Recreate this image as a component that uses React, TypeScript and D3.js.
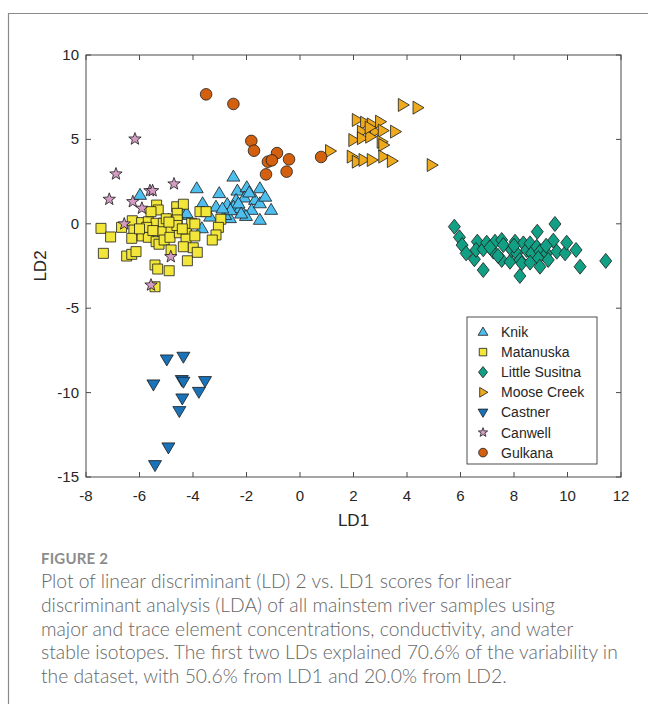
import React from "react";
import * as d3 from "d3";

// LD1 / LD2 scores per river group, as [LD1, LD2]
const knik: [number, number][] = [
  [-5.98, 1.71], [-3.86, 2.1], [-2.49, 2.79], [-3.02, 1.81], [-2.34, 1.96], [-1.99, 2.16],
  [-1.5, 2.1], [-3.64, 1.21], [-3.14, 1.01], [-2.72, 1.16], [-2.39, 1.41], [-2.08, 1.55],
  [-1.68, 1.41], [-2.49, 1.01], [-2.24, 0.92], [-1.81, 0.82], [-1.5, 1.21], [-1.08, 0.82],
  [-3.36, 0.42], [-2.62, 0.33], [-2.02, 0.46], [-1.5, 0.23], [-3.67, -0.27], [-4.36, 0.52],
  [-4.92, 0.23], [-2.8, 0.52], [-4.24, 0.62], [-2.3, 1.2], [-1.9, 1.85], [-2.2, 0.6],
  [-2.6, 0.8], [-1.3, 1.6], [-4.6, 0.6], [-2.9, 0.9],
];
const matanuska: [number, number][] = [
  [-7.44, -0.27], [-7.08, -0.78], [-7.35, -1.75], [-6.67, -0.21], [-6.27, 0.18], [-6.21, -0.37],
  [-6.29, -0.86], [-6.48, -1.91], [-6.29, -1.81], [-6.13, -1.65], [-5.92, 0.07], [-5.67, 0.12],
  [-5.9, -0.72], [-5.67, -0.8], [-5.36, 1.11], [-5.3, 0.82], [-5.57, 0.72], [-5.38, 0.03],
  [-5.11, 0.03], [-5.13, -0.47], [-5.38, -1.06], [-5.27, -1.21], [-5.08, -0.96], [-4.82, -0.37],
  [-4.86, -0.8], [-4.51, -0.53], [-4.24, -0.47], [-4.26, -0.9], [-4.36, -1.36], [-3.99, -1.42],
  [-3.84, -1.69], [-3.93, -0.72], [-4.61, 1.01], [-4.36, 1.16], [-4.59, 0.62], [-4.59, 0.23],
  [-4.05, 0.03], [-3.93, -0.01], [-3.74, 0.72], [-3.51, 0.72], [-2.96, 0.27], [-3.05, -0.21],
  [-3.14, -0.66], [-3.28, -0.96], [-4.82, -1.55], [-4.21, -2.19], [-5.42, -2.44], [-5.32, -2.68],
  [-4.89, -2.78], [-5.42, -3.73], [-5.73, -0.21], [-4.6, -0.1], [-5.0, 0.3], [-5.5, -0.4],
  [-4.9, 0.1], [-6.0, -0.3], [-4.4, -0.3],
];
const littleSusitna: [number, number][] = [
  [5.77, -0.17], [5.96, -0.8], [6.06, -1.26], [6.21, -1.75], [6.52, -2.1], [6.63, -1.06],
  [6.58, -1.55], [6.85, -1.51], [6.98, -1.12], [7.23, -1.65], [7.29, -1.06], [7.54, -0.96],
  [7.6, -1.26], [7.54, -2.14], [7.85, -2.25], [7.91, -1.55], [8.04, -1.06], [8.1, -1.75],
  [8.22, -2.14], [8.29, -2.34], [8.35, -1.16], [8.47, -1.55], [8.6, -1.16], [8.66, -1.75],
  [8.85, -1.36], [8.97, -1.65], [8.91, -2.04], [8.97, -2.54], [8.87, -0.47], [9.22, -1.75],
  [9.28, -2.14], [9.47, -1.0], [9.53, -0.01], [9.6, -1.65], [9.91, -1.75], [9.97, -1.12],
  [10.32, -1.55], [10.47, -2.54], [11.43, -2.2], [6.85, -2.74], [8.22, -3.09], [7.4, -1.9],
  [8.6, -2.3], [8.0, -1.3], [7.1, -1.4], [9.2, -1.3],
];
const mooseCreek: [number, number][] = [
  [3.84, 7.04], [4.39, 6.88], [4.92, 3.48], [1.12, 4.31], [2.12, 6.15], [2.43, 5.99],
  [2.68, 5.89], [2.99, 6.05], [2.31, 5.46], [2.8, 5.46], [3.09, 5.52], [3.55, 5.46],
  [1.99, 4.96], [2.31, 5.07], [2.62, 5.16], [3.05, 4.86], [3.11, 4.67], [1.93, 3.98],
  [2.12, 3.68], [2.37, 3.78], [2.68, 3.78], [3.11, 3.98], [3.43, 3.72], [2.6, 5.7],
];
const castner: [number, number][] = [
  [-4.98, -8.03], [-4.36, -7.87], [-5.48, -9.51], [-4.42, -9.25], [-4.36, -9.35], [-3.55, -9.31],
  [-3.78, -9.95], [-4.4, -10.34], [-4.51, -11.09], [-4.92, -13.24], [-5.42, -14.29],
];
const canwell: [number, number][] = [
  [-6.17, 5.02], [-6.88, 2.95], [-7.13, 1.45], [-6.25, 1.31], [-5.61, 1.96], [-5.51, 1.96],
  [-4.71, 2.36], [-5.91, 0.92], [-6.57, -0.01], [-4.83, -1.95], [-5.57, -3.63],
];
const gulkana: [number, number][] = [
  [-3.51, 7.67], [-2.49, 7.1], [-1.82, 4.91], [-1.72, 4.33], [-0.86, 4.19], [-1.2, 3.68],
  [-1.05, 3.76], [-0.41, 3.82], [-1.27, 2.93], [-0.5, 3.09], [0.79, 3.96],
];

const groupNames = ["Knik", "Matanuska", "Little Susitna", "Moose Creek", "Castner", "Canwell", "Gulkana"];
const groupColors = ["#4DBEEE", "#F2E63A", "#12A085", "#EDAA1F", "#1A72B8", "#D49CC2", "#D2600F"];
const groupShapes = ["up", "square", "diamond", "right", "down", "star", "circle"];
const groupData = [knik, matanuska, littleSusitna, mooseCreek, castner, canwell, gulkana];

const xTicks = [-8, -6, -4, -2, 0, 2, 4, 6, 8, 10, 12];
const yTicks = [-15, -10, -5, 0, 5, 10];

const captionTitle = "FIGURE 2";
const captionLines = [
  "Plot of linear discriminant (LD) 2 vs. LD1 scores for linear",
  "discriminant analysis (LDA) of all mainstem river samples using",
  "major and trace element concentrations, conductivity, and water",
  "stable isotopes. The first two LDs explained 70.6% of the variability in",
  "the dataset, with 50.6% from LD1 and 20.0% from LD2.",
];

// marker outline centred on the origin; k scales the whole glyph
function markerPath(shape: string, k: number): string {
  const p = d3.path();
  if (shape === "up" || shape === "down" || shape === "right") {
    const w = 6.5 * k, h = 11 * k;
    let pts: [number, number][] = [[0, -h * 0.6], [w, h * 0.4], [-w, h * 0.4]];
    if (shape === "down") pts = pts.map(([a, b]) => [a, -b]);
    if (shape === "right") pts = pts.map(([a, b]) => [-b, a]);
    p.moveTo(pts[0][0], pts[0][1]);
    p.lineTo(pts[1][0], pts[1][1]);
    p.lineTo(pts[2][0], pts[2][1]);
    p.closePath();
  } else if (shape === "square") {
    const s = 5 * k;
    p.rect(-s, -s, 2 * s, 2 * s);
  } else if (shape === "diamond") {
    const w = 6 * k, h = 7.5 * k;
    p.moveTo(0, -h); p.lineTo(w, 0); p.lineTo(0, h); p.lineTo(-w, 0); p.closePath();
  } else if (shape === "circle") {
    const r = 5.8 * k;
    p.moveTo(r, 0);
    p.arc(0, 0, r, 0, Math.PI * 2);
    p.closePath();
  } else if (shape === "star") {
    const ro = 6.5 * k, ri = 2.7 * k;
    for (let i = 0; i < 10; i++) {
      const r = i % 2 === 0 ? ro : ri;
      const a = -Math.PI / 2 + (i * Math.PI) / 5;
      if (i === 0) p.moveTo(r * Math.cos(a), r * Math.sin(a));
      else p.lineTo(r * Math.cos(a), r * Math.sin(a));
    }
    p.closePath();
  }
  return p.toString();
}

export default function App() {
  const W = 648, H = 704;
  const left = 86, right = 621, top = 55, bottom = 477;
  const x = d3.scaleLinear().domain([-8, 12]).range([left, right]);
  const y = d3.scaleLinear().domain([-15, 10]).range([bottom, top]);
  const axisFont = "'Liberation Sans', Arial, sans-serif";
  const captionFont = "Lato, 'Open Sans', sans-serif";
  const tickLen = 5;
  const axisColor = "#4a4a4a";

  const legendX = 467, legendY = 317, legendW = 130, legendH = 147;

  return (
    <svg width={W} height={H} style={{ position: "absolute", left: 0, top: 0, background: "#fff" }}>
      <rect x={0} y={0} width={W} height={H} fill="#fff" />
      {/* outer figure frame */}
      <path d={`M8.5,${H} V13.5 H${W}`} fill="none" stroke="#8a8a8a" strokeWidth={1.2} />

      {/* plot box */}
      <rect x={left} y={top} width={right - left} height={bottom - top} fill="#fff" stroke={axisColor} strokeWidth={1} />

      {/* ticks, pointing inward on all four sides */}
      {xTicks.map((t) => (
        <g key={"xt" + t}>
          <line x1={x(t)} x2={x(t)} y1={bottom} y2={bottom - tickLen} stroke={axisColor} />
          <line x1={x(t)} x2={x(t)} y1={top} y2={top + tickLen} stroke={axisColor} />
          <text x={x(t)} y={bottom + 24} textAnchor="middle" fontFamily={axisFont} fontSize={15} fill="#262626">
            {t}
          </text>
        </g>
      ))}
      {yTicks.map((t) => (
        <g key={"yt" + t}>
          <line x1={left} x2={left + tickLen} y1={y(t)} y2={y(t)} stroke={axisColor} />
          <line x1={right} x2={right - tickLen} y1={y(t)} y2={y(t)} stroke={axisColor} />
          <text x={left - 7} y={y(t) + 5} textAnchor="end" fontFamily={axisFont} fontSize={15} fill="#262626">
            {t}
          </text>
        </g>
      ))}

      <text x={(left + right) / 2} y={bottom + 49} textAnchor="middle" fontFamily={axisFont} fontSize={17} fill="#262626">
        LD1
      </text>
      <text
        transform={`translate(46,${(top + bottom) / 2}) rotate(-90)`}
        textAnchor="middle"
        fontFamily={axisFont}
        fontSize={17}
        fill="#262626"
      >
        LD2
      </text>

      {/* scatter groups */}
      {groupData.map((pts, gi) => (
        <g key={groupNames[gi]}>
          {pts.map(([a, b], i) => (
            <path
              key={i}
              d={markerPath(groupShapes[gi], 1)}
              transform={`translate(${x(a)},${y(b)})`}
              fill={groupColors[gi]}
              stroke="#1a1a1a"
              strokeWidth={0.8}
            />
          ))}
        </g>
      ))}

      {/* legend */}
      <rect x={legendX} y={legendY} width={legendW} height={legendH} fill="#fff" stroke="#3a3a3a" strokeWidth={0.9} />
      {groupNames.map((name, i) => {
        const cy = legendY + 15 + i * 20.1;
        return (
          <g key={"lg" + name}>
            <path
              d={markerPath(groupShapes[i], 0.75)}
              transform={`translate(${legendX + 16},${cy})`}
              fill={groupColors[i]}
              stroke="#1a1a1a"
              strokeWidth={0.8}
            />
            <text x={legendX + 34} y={cy + 5} fontFamily={axisFont} fontSize={14} fill="#262626">
              {name}
            </text>
          </g>
        );
      })}

      {/* caption */}
      <text x={41} y={564} fontFamily={captionFont} fontSize={15} fontWeight={700} fill="#8c8c8c" letterSpacing={0.2}>
        {captionTitle}
      </text>
      {captionLines.map((line, i) => (
        <text key={"cap" + i} x={41} y={588 + i * 23.8} fontFamily={captionFont} fontSize={19.3} fontWeight={300} fill="#666">
          {line}
        </text>
      ))}
    </svg>
  );
}
